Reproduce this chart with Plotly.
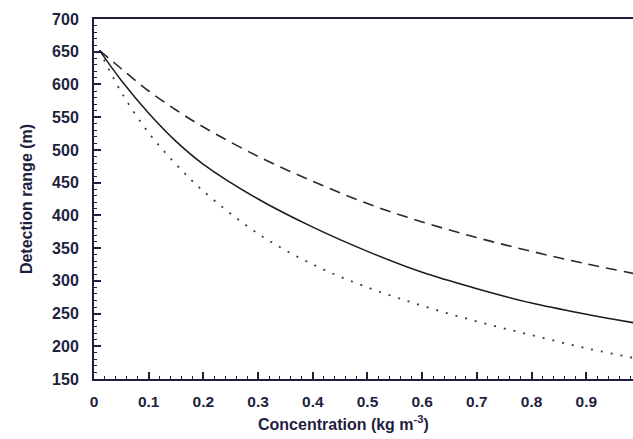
import plotly.graph_objects as go

concentration = [0.01, 0.05, 0.1, 0.15, 0.2, 0.3, 0.4, 0.5, 0.6, 0.7, 0.8, 0.9, 1.0]
range_dashed = [652, 624, 590, 561, 535, 490, 452, 418, 390, 366, 345, 326, 309]
range_solid = [652, 606, 556, 513, 478, 425, 382, 345, 313, 288, 266, 249, 234]
range_dotted = [652, 588, 526, 478, 437, 372, 325, 290, 262, 238, 217, 197, 180]

x_ticks = [0, 0.1, 0.2, 0.3, 0.4, 0.5, 0.6, 0.7, 0.8, 0.9]
x_ticklabels = ["0", "0.1", "0.2", "0.3", "0.4", "0.5", "0.6", "0.7", "0.8", "0.9"]
y_ticks = [150, 200, 250, 300, 350, 400, 450, 500, 550, 600, 650, 700]

ink = "#1f1f3f"
fam = "Liberation Sans, Arial, sans-serif"

fig = go.Figure()
fig.add_trace(go.Scatter(x=concentration, y=range_dashed, mode="lines",
                         line=dict(color="#2a2a2a", width=1.6, dash="11px,7px", shape="spline")))
fig.add_trace(go.Scatter(x=concentration, y=range_solid, mode="lines",
                         line=dict(color="#1a1a1a", width=1.5, shape="spline")))
fig.add_trace(go.Scatter(x=concentration, y=range_dotted, mode="lines",
                         line=dict(color="#3a3a4a", width=1.8, dash="2px,8px", shape="spline")))

fig.update_layout(
    width=633, height=439,
    margin=dict(l=94, r=0, t=19, b=60),
    paper_bgcolor="white", plot_bgcolor="white",
    showlegend=False,
    font=dict(family=fam, size=15, color=ink),
)
fig.update_xaxes(
    range=[0, 0.9854], tickvals=x_ticks, ticktext=x_ticklabels,
    ticks="inside", ticklen=7, tickwidth=1.5, tickcolor=ink,
    showline=True, linewidth=2, linecolor=ink, mirror=True,
    showgrid=False, zeroline=False,
    tickfont=dict(family=fam, size=15.5, color=ink, weight="bold"),
    ticklabelstandoff=7,
    minor=dict(ticks="inside", dtick=0.02, tick0=0, ticklen=3, tickwidth=1, tickcolor=ink),
)
fig.update_yaxes(
    range=[150, 700], tickvals=y_ticks,
    ticks="inside", ticklen=7, tickwidth=1.5, tickcolor=ink,
    showline=True, linewidth=2, linecolor=ink, mirror=False,
    showgrid=False, zeroline=False,
    tickfont=dict(family=fam, size=16, color=ink, weight="bold"),
    ticklabelstandoff=10,
    minor=dict(ticks="inside", dtick=10, tick0=150, ticklen=3, tickwidth=1, tickcolor=ink),
    title=dict(text="<b>Detection range (m)</b>", standoff=15,
               font=dict(family=fam, size=16, color=ink)),
)
fig.add_annotation(
    text="<b>Concentration (kg m<sup>-3</sup>)</b>", xref="paper", yref="paper",
    x=0.463, y=0, yshift=-44, showarrow=False, xanchor="center", yanchor="middle",
    font=dict(family=fam, size=16, color=ink),
)

fig.write_html("out.html")
